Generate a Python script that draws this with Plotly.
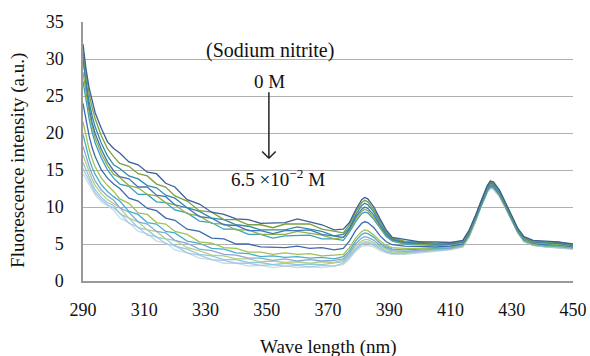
import plotly.graph_objects as go

wavelength = [290, 291, 292, 293, 294, 296, 298, 300, 302, 305, 308, 311, 314, 317, 320,
              324, 328, 332, 336, 340, 344, 348, 352, 356, 360, 364, 368, 372, 375, 377,
              379, 381, 382, 383, 385, 387, 389, 391, 395, 400, 405, 410, 414, 416, 418,
              420, 422, 423, 424, 426, 428, 430, 432, 434, 437, 441, 445, 450]

s01 = [32.0, 28.6, 26.1, 24.3, 22.7, 20.6, 18.8, 17.9, 17.3, 16.1, 15.7, 14.7, 14.5, 13.2, 12.7,
       11.0, 10.4, 9.3, 9.0, 8.4, 8.3, 7.8, 7.9, 7.9, 8.4, 8.0, 7.6, 6.9, 7.0, 7.9,
       9.6, 11.0, 11.3, 11.1, 10.0, 8.4, 6.9, 5.9, 5.6, 5.3, 5.3, 5.2, 5.5, 6.8, 8.7,
       10.9, 12.9, 13.5, 13.4, 12.3, 10.6, 8.8, 7.1, 6.0, 5.5, 5.4, 5.3, 5.0]
s02 = [31.0, 28.0, 25.3, 23.4, 21.9, 19.6, 17.9, 16.8, 15.9, 15.5, 14.5, 14.2, 13.1, 12.7, 11.5,
       10.8, 9.5, 9.3, 8.3, 8.3, 7.6, 7.6, 7.2, 7.7, 7.7, 7.7, 7.0, 6.7, 6.5, 7.6,
       9.3, 10.6, 10.9, 10.7, 9.6, 8.1, 6.7, 5.8, 5.4, 5.3, 5.1, 5.2, 5.4, 6.7, 8.6,
       10.8, 12.8, 13.4, 13.3, 12.2, 10.5, 8.7, 7.0, 5.9, 5.4, 5.3, 5.3, 4.9]
s03 = [29.8, 26.9, 24.2, 22.3, 20.8, 18.6, 16.9, 15.7, 15.2, 14.2, 13.8, 12.9, 12.6, 11.6, 11.2,
       9.9, 9.4, 8.5, 8.3, 7.6, 7.4, 6.9, 6.9, 6.9, 7.3, 7.0, 6.7, 6.1, 6.3, 7.2,
       8.9, 10.2, 10.5, 10.3, 9.3, 7.8, 6.5, 5.7, 5.3, 5.2, 5.0, 5.1, 5.3, 6.6, 8.5,
       10.7, 12.7, 13.3, 13.2, 12.1, 10.4, 8.6, 6.9, 5.8, 5.4, 5.2, 5.2, 4.9]
s04 = [30.6, 26.5, 23.5, 21.4, 19.9, 17.8, 16.1, 14.9, 14.1, 13.8, 12.7, 12.7, 11.6, 11.4, 10.3,
       9.9, 8.7, 8.5, 7.6, 7.5, 6.8, 6.8, 6.4, 6.8, 6.8, 6.9, 6.3, 6.1, 5.9, 7.0,
       8.6, 9.7, 10.0, 9.8, 8.9, 7.5, 6.3, 5.6, 5.2, 5.1, 5.0, 5.0, 5.3, 6.6, 8.5,
       10.6, 12.6, 13.2, 13.1, 12.0, 10.3, 8.5, 6.9, 5.8, 5.3, 5.2, 5.1, 4.8]
s05 = [28.2, 25.4, 22.8, 20.9, 19.3, 17.2, 15.6, 14.4, 14.0, 12.9, 12.6, 11.7, 11.5, 10.6, 10.3,
       9.1, 8.8, 7.8, 7.7, 6.9, 6.9, 6.3, 6.3, 6.3, 6.7, 6.4, 6.2, 5.7, 5.9, 6.8,
       8.3, 9.4, 9.7, 9.5, 8.6, 7.3, 6.2, 5.5, 5.1, 5.0, 4.9, 5.0, 5.2, 6.5, 8.4,
       10.5, 12.5, 13.1, 13.0, 11.9, 10.2, 8.5, 6.8, 5.7, 5.2, 5.1, 5.0, 4.8]
s06 = [27.0, 24.3, 21.9, 20.1, 18.6, 16.6, 15.0, 13.9, 13.1, 12.8, 11.7, 11.7, 10.7, 10.6, 9.6,
       9.2, 8.1, 7.9, 7.0, 7.0, 6.3, 6.3, 5.8, 6.1, 6.1, 6.2, 5.7, 5.7, 5.5, 6.6,
       8.0, 9.1, 9.3, 9.2, 8.3, 7.1, 6.0, 5.4, 5.0, 4.9, 4.8, 4.9, 5.2, 6.5, 8.3,
       10.4, 12.4, 13.0, 12.9, 11.8, 10.1, 8.4, 6.7, 5.6, 5.2, 5.0, 5.0, 4.7]
s07 = [24.0, 21.6, 19.6, 18.0, 16.8, 15.0, 13.9, 13.1, 12.5, 11.2, 10.8, 9.8, 9.5, 8.5, 8.2,
       7.0, 6.7, 5.8, 5.7, 5.0, 5.0, 4.6, 4.6, 4.5, 4.7, 4.4, 4.5, 4.2, 4.4, 5.4,
       6.8, 7.8, 8.0, 7.9, 7.2, 6.1, 5.3, 4.9, 4.7, 4.6, 4.6, 4.7, 5.0, 6.3, 8.2,
       10.3, 12.3, 12.9, 12.8, 11.7, 10.1, 8.4, 6.7, 5.6, 5.1, 4.9, 4.9, 4.6]
s08 = [21.5, 19.5, 17.8, 16.5, 15.4, 13.9, 12.9, 12.1, 11.1, 10.5, 9.2, 9.0, 7.9, 7.7, 6.7,
       6.3, 5.3, 5.1, 4.5, 4.4, 3.9, 3.9, 3.6, 3.8, 3.6, 3.7, 3.4, 3.5, 3.6, 4.5,
       5.8, 6.7, 6.9, 6.8, 6.2, 5.4, 4.8, 4.5, 4.4, 4.4, 4.5, 4.6, 4.9, 6.2, 8.1,
       10.3, 12.2, 12.9, 12.8, 11.7, 10.0, 8.3, 6.7, 5.5, 5.0, 4.8, 4.8, 4.5]
s09 = [19.8, 18.0, 16.5, 15.3, 14.4, 13.0, 12.1, 11.4, 10.8, 9.4, 9.0, 7.9, 7.7, 6.7, 6.5,
       5.4, 5.1, 4.4, 4.3, 3.8, 3.7, 3.3, 3.4, 3.2, 3.3, 3.1, 3.2, 3.0, 3.3, 4.1,
       5.4, 6.3, 6.5, 6.4, 5.9, 5.1, 4.6, 4.3, 4.2, 4.3, 4.4, 4.5, 4.9, 6.2, 8.1,
       10.2, 12.2, 12.8, 12.7, 11.7, 10.0, 8.3, 6.6, 5.5, 5.0, 4.8, 4.7, 4.5]
s10 = [18.2, 16.8, 15.5, 14.4, 13.5, 12.3, 11.5, 10.9, 9.9, 9.3, 8.0, 7.7, 6.7, 6.5, 5.5,
       5.1, 4.3, 4.1, 3.6, 3.5, 3.1, 3.1, 2.8, 3.0, 2.7, 2.9, 2.7, 2.8, 3.0, 3.8,
       5.0, 5.8, 6.0, 5.9, 5.5, 4.8, 4.4, 4.1, 4.0, 4.2, 4.3, 4.4, 4.8, 6.1, 8.0,
       10.2, 12.1, 12.7, 12.6, 11.6, 9.9, 8.2, 6.6, 5.4, 4.9, 4.7, 4.7, 4.4]
s11 = [17.0, 15.8, 14.7, 13.7, 12.9, 11.8, 11.0, 10.5, 9.9, 8.5, 8.0, 6.9, 6.7, 5.7, 5.5,
       4.5, 4.1, 3.5, 3.4, 3.0, 3.0, 2.6, 2.7, 2.5, 2.6, 2.4, 2.6, 2.5, 2.8, 3.6,
       4.7, 5.4, 5.6, 5.6, 5.2, 4.6, 4.2, 3.9, 3.9, 4.1, 4.2, 4.4, 4.7, 6.0, 8.0,
       10.2, 12.1, 12.7, 12.6, 11.5, 9.9, 8.2, 6.6, 5.4, 4.9, 4.7, 4.6, 4.4]
s12 = [16.0, 15.0, 14.0, 13.1, 12.3, 11.3, 10.6, 10.2, 9.1, 8.5, 7.2, 6.9, 5.9, 5.7, 4.7,
       4.3, 3.6, 3.4, 2.9, 2.9, 2.5, 2.5, 2.2, 2.4, 2.2, 2.3, 2.2, 2.4, 2.6, 3.4,
       4.4, 5.1, 5.3, 5.3, 5.0, 4.4, 4.0, 3.8, 3.8, 4.0, 4.1, 4.3, 4.7, 6.0, 7.9,
       10.1, 12.0, 12.6, 12.5, 11.5, 9.9, 8.2, 6.5, 5.4, 4.8, 4.6, 4.6, 4.4]
s13 = [15.2, 14.3, 13.5, 12.7, 11.9, 11.0, 10.3, 9.9, 9.2, 7.8, 7.3, 6.2, 6.0, 5.0, 4.8,
       3.8, 3.5, 2.9, 2.8, 2.4, 2.4, 2.1, 2.2, 2.0, 2.1, 1.9, 2.1, 2.0, 2.4, 3.2,
       4.2, 4.9, 5.1, 5.1, 4.8, 4.3, 3.9, 3.7, 3.7, 3.9, 4.1, 4.3, 4.6, 5.9, 7.9,
       10.1, 12.0, 12.6, 12.5, 11.4, 9.8, 8.1, 6.5, 5.3, 4.8, 4.6, 4.5, 4.3]
s14 = [14.5, 13.8, 13.1, 12.3, 11.6, 10.7, 10.1, 9.6, 8.5, 7.9, 6.7, 6.4, 5.4, 5.2, 4.2,
       3.8, 3.1, 2.9, 2.4, 2.4, 2.0, 2.1, 1.8, 2.0, 1.8, 1.9, 1.8, 2.0, 2.2, 3.0,
       4.0, 4.7, 4.8, 4.8, 4.6, 4.1, 3.8, 3.6, 3.6, 3.8, 4.0, 4.2, 4.6, 5.9, 7.9,
       10.1, 12.0, 12.5, 12.4, 11.4, 9.8, 8.1, 6.5, 5.3, 4.8, 4.6, 4.5, 4.3]

series = [s01, s02, s03, s04, s05, s06, s07, s08, s09, s10, s11, s12, s13, s14]
colors = ["#3A5F9A", "#7E9F3A", "#2F8CA6", "#4472B8", "#92B144", "#3AA0BD", "#3D6AB0",
          "#A3C152", "#45B0CC", "#8DA6D8", "#B5CF84", "#8FCBDB", "#AFC4E4", "#C4DDE6"]

x_ticks = [290, 310, 330, 350, 370, 390, 410, 430, 450]
y_ticks = [0, 5, 10, 15, 20, 25, 30, 35]

FONT = "Liberation Serif"

fig = go.Figure()
# draw lightest first so darker curves lie on top
for s, c in reversed(list(zip(series, colors))):
    fig.add_trace(go.Scatter(x=wavelength, y=s, mode="lines",
                             line=dict(color=c, width=1.3), showlegend=False,
                             hoverinfo="skip"))

fig.update_layout(
    width=590, height=356,
    margin=dict(l=83, r=17, t=22, b=75, autoexpand=False),
    paper_bgcolor="white", plot_bgcolor="white",
    font=dict(family=FONT, size=18, color="#111111"),
    showlegend=False,
)
fig.update_xaxes(
    range=[290, 450], tickvals=x_ticks, ticktext=[str(v) for v in x_ticks],
    showgrid=False, zeroline=False, automargin=False,
    showline=True, linecolor="#9a9a9a", linewidth=1.5,
    ticks="outside", ticklen=12, tickcolor="rgba(0,0,0,0)",
    tickfont=dict(family=FONT, size=18),
)
fig.update_yaxes(
    range=[0, 35], tickvals=y_ticks, ticktext=[str(v) for v in y_ticks],
    showgrid=True, gridcolor="#b0b0b0", gridwidth=1.3, zeroline=False, automargin=False,
    showline=True, linecolor="#9a9a9a", linewidth=1.5,
    ticks="outside", ticklen=14, tickcolor="rgba(0,0,0,0)",
    tickfont=dict(family=FONT, size=18),
)

# axis titles
fig.add_annotation(xref="paper", yref="paper", x=0.5, y=-0.255,
                   text="Wave length (nm)", showarrow=False,
                   font=dict(family=FONT, size=19), xanchor="center", yanchor="middle")
fig.add_annotation(xref="paper", yref="paper", x=-0.133, y=0.467,
                   text="Fluorescence intensity (a.u.)", showarrow=False, textangle=-90,
                   font=dict(family=FONT, size=19), xanchor="center", yanchor="middle")

fig.add_annotation(x=351, y=31.2, text="(Sodium nitrite)", showarrow=False,
                   font=dict(family=FONT, size=20))
fig.add_annotation(x=351, y=26.9, text="0 M", showarrow=False,
                   font=dict(family=FONT, size=19))
fig.add_annotation(x=353.7, y=13.9, text="6.5 ×10<sup>−2</sup> M", showarrow=False,
                   font=dict(family=FONT, size=19))
arrow_style = dict(color="#222222", width=1.5)
fig.add_shape(type="line", x0=350.7, y0=25.5, x1=350.7, y1=16.6, line=arrow_style)
fig.add_shape(type="line", x0=348.5, y0=17.5, x1=350.7, y1=16.6, line=arrow_style)
fig.add_shape(type="line", x0=352.9, y0=17.5, x1=350.7, y1=16.6, line=arrow_style)

fig.write_html("out.html")
